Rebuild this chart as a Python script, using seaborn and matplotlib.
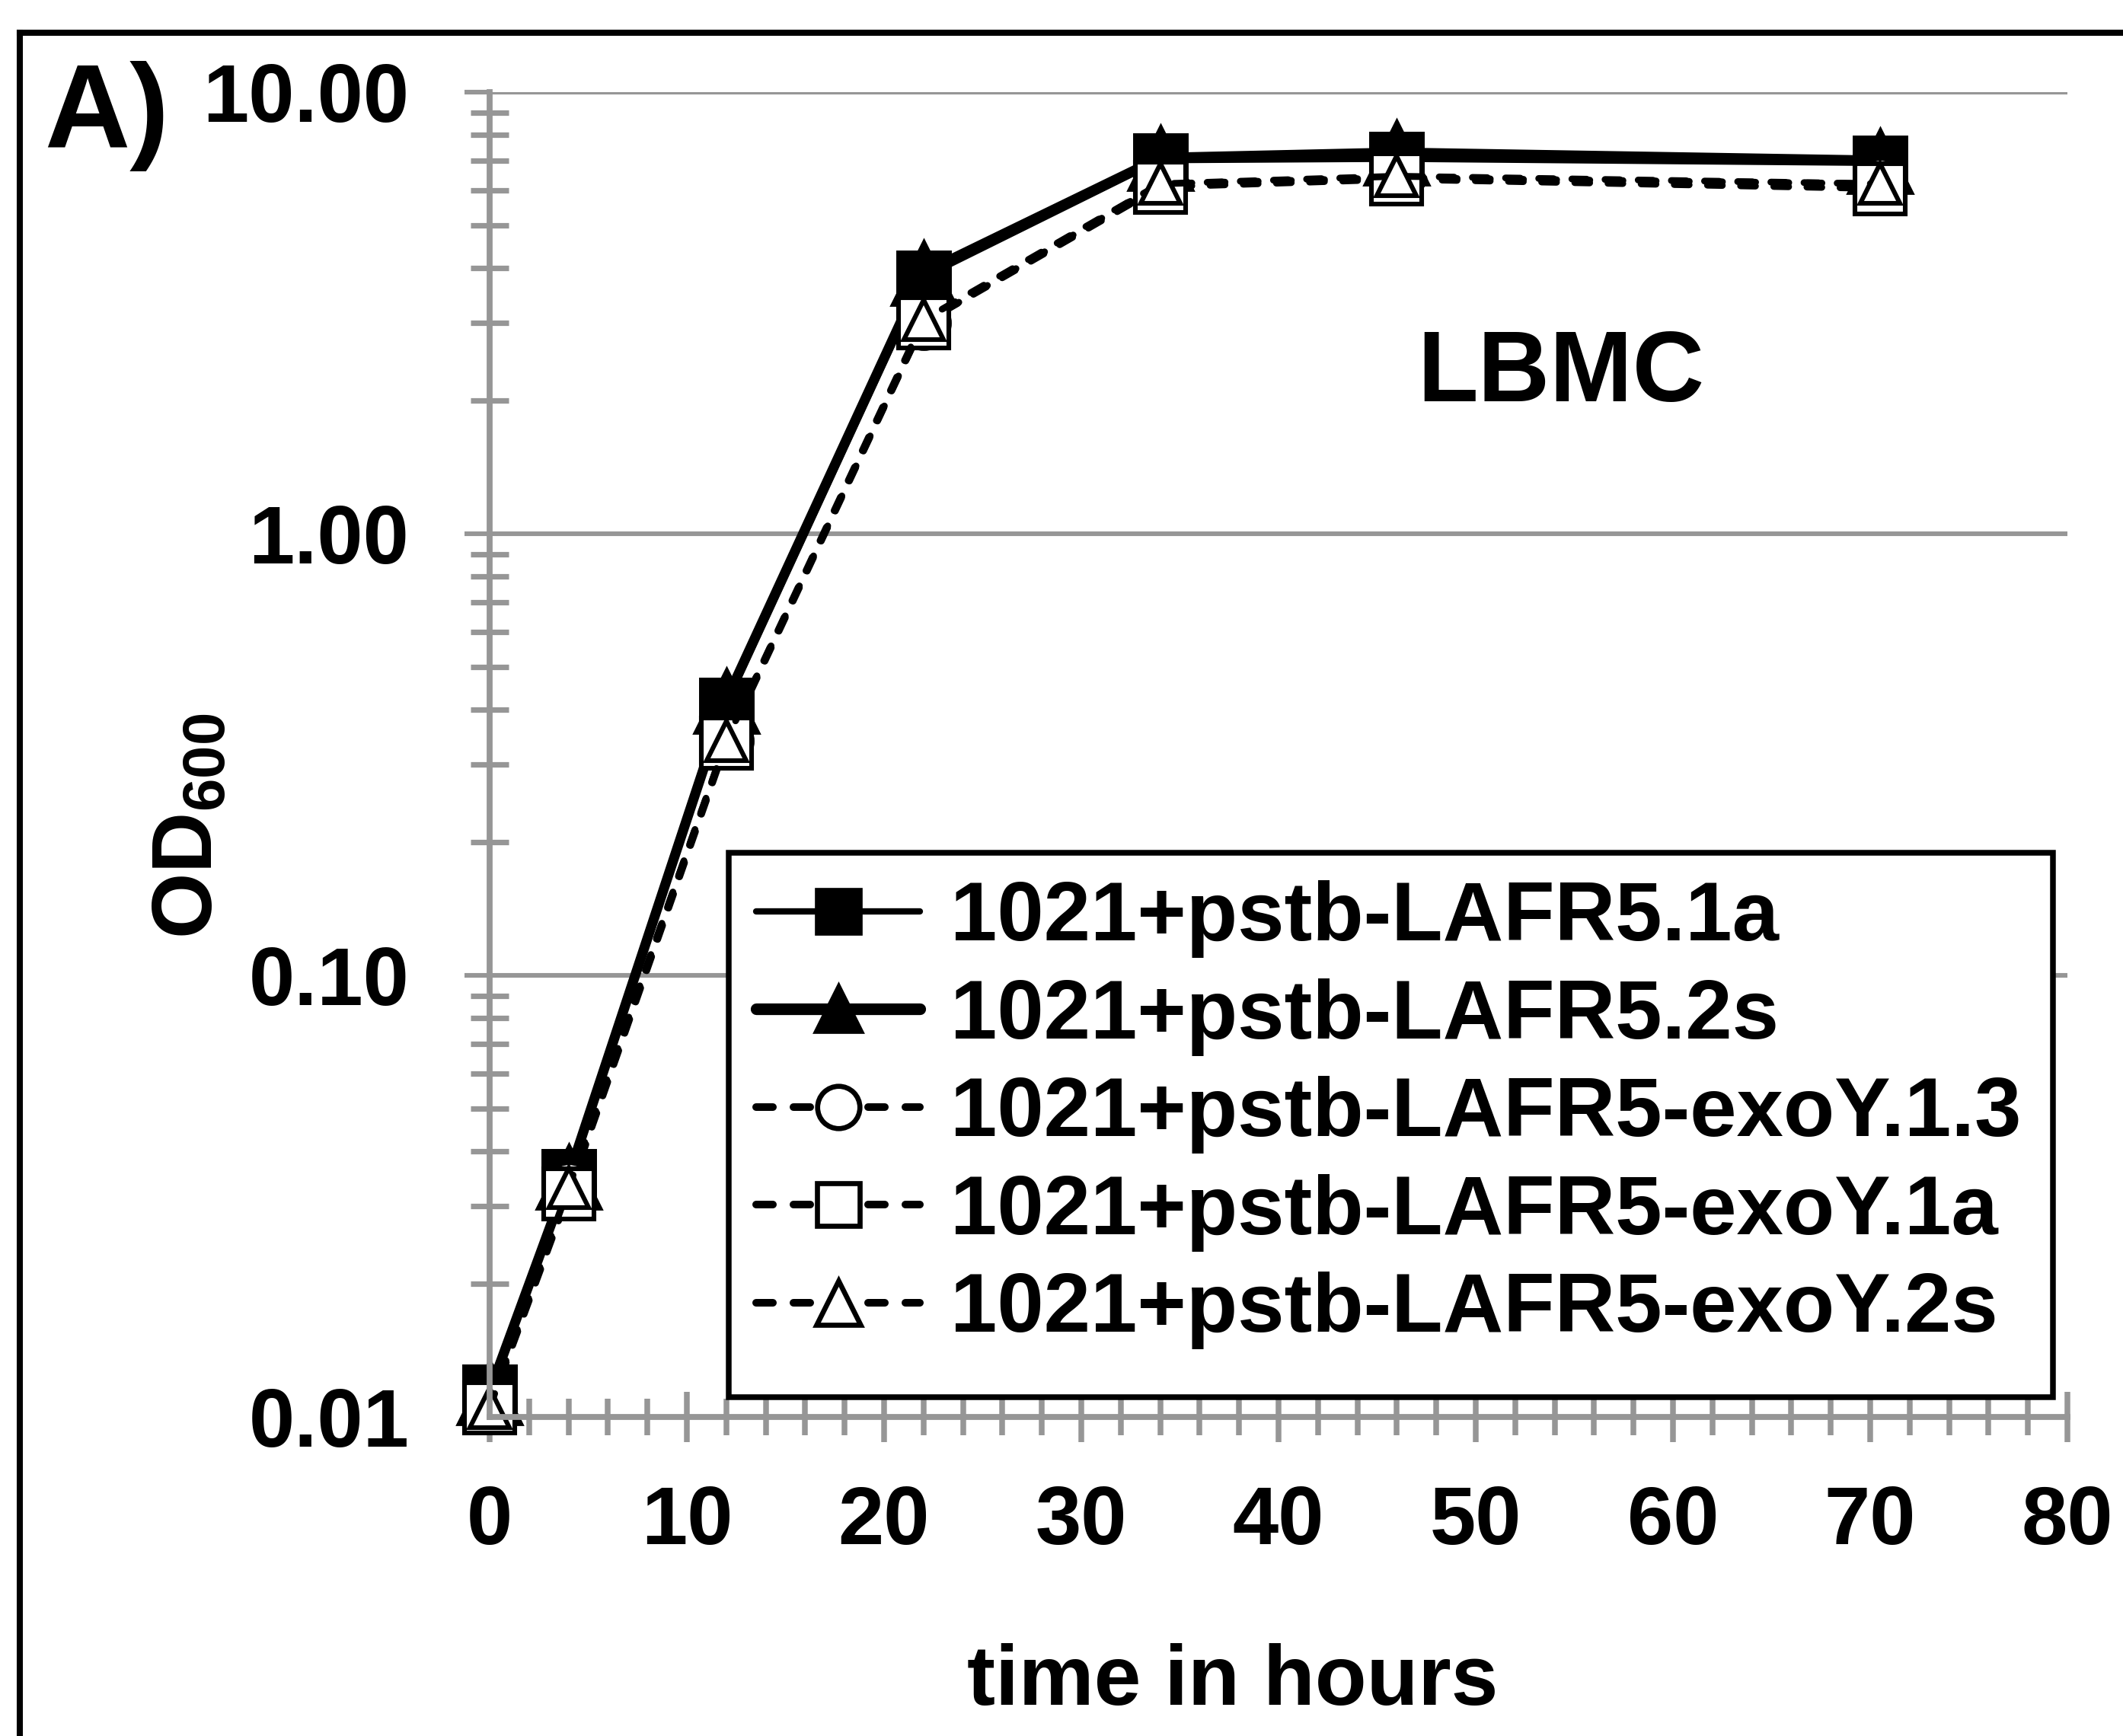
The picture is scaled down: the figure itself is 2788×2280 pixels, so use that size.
import numpy as np
import pandas as pd
import matplotlib
matplotlib.use("Agg")
import matplotlib.pyplot as plt
import seaborn as sns
from matplotlib.lines import Line2D
from matplotlib.patches import Rectangle
from matplotlib.legend_handler import HandlerLine2D
from matplotlib.ticker import FixedLocator, FixedFormatter, NullFormatter

# ---------------- data ----------------
hours = [0, 4, 12, 22, 34, 46, 70.5]
od_lafr5_1a = [0.0114, 0.035, 0.41, 3.80, 7.00, 7.05, 6.90]
od_lafr5_2s = [0.0114, 0.035, 0.42, 3.90, 7.10, 7.30, 7.00]
od_exoy_1_3 = [0.0106, 0.033, 0.34, 3.00, 6.20, 6.40, 6.20]
od_exoy_1a = [0.0105, 0.032, 0.335, 3.00, 6.10, 6.35, 6.05]
od_exoy_2s = [0.0105, 0.033, 0.34, 3.05, 6.20, 6.45, 6.20]

series_labels = [
    "1021+pstb-LAFR5.1a",
    "1021+pstb-LAFR5.2s",
    "1021+pstb-LAFR5-exoY.1.3",
    "1021+pstb-LAFR5-exoY.1a",
    "1021+pstb-LAFR5-exoY.2s",
]
series_values = [od_lafr5_1a, od_lafr5_2s, od_exoy_1_3, od_exoy_1a, od_exoy_2s]

x_major_ticks = [0, 10, 20, 30, 40, 50, 60, 70, 80]
x_tick_labels = ["0", "10", "20", "30", "40", "50", "60", "70", "80"]
y_major_ticks = [0.01, 0.1, 1, 10]
y_tick_labels = ["0.01", "0.10", "1.00", "10.00"]

panel_label = "A)"
medium_label = "LBMC"
x_label = "time in hours"
y_label = r"OD$_{\mathbf{600}}$"

# ---------------- style ----------------
sns.set_style("white")
plt.rcParams["font.family"] = ["Liberation Sans", "DejaVu Sans"]
plt.rcParams["font.weight"] = "bold"
plt.rcParams["text.color"] = "black"
plt.rcParams["axes.labelcolor"] = "black"
plt.rcParams["xtick.color"] = "black"
plt.rcParams["ytick.color"] = "black"
plt.rcParams["mathtext.fontset"] = "custom"
plt.rcParams["mathtext.rm"] = "Liberation Sans:bold"
plt.rcParams["mathtext.bf"] = "Liberation Sans:bold"
plt.rcParams["mathtext.it"] = "Liberation Sans:bold"

W, H, DPI = 2788, 2280, 200
GRAY = "#969696"

fig = plt.figure(figsize=(W / DPI, H / DPI), dpi=DPI)
fig.patch.set_facecolor("white")

left_px, right_px, top_px, bottom_px = 643, 2715, 121, 1861
ax = fig.add_axes([left_px / W, 1 - bottom_px / H,
                   (right_px - left_px) / W, (bottom_px - top_px) / H])

dash = (0, (2.2, 2.7))
styles = [
    dict(marker="s", markersize=24, markerfacecolor="black", markeredgewidth=2.5,
         linewidth=2.6, linestyle="-"),
    dict(marker="^", markersize=31, markerfacecolor="black", markeredgewidth=1.0,
         linewidth=4.7, linestyle="-"),
    dict(marker="o", markersize=24, markerfacecolor="white", markeredgewidth=2.2,
         linewidth=3.2, linestyle=dash),
    dict(marker="s", markersize=24, markerfacecolor="white", markeredgewidth=2.2,
         linewidth=3.2, linestyle=dash),
    dict(marker="^", markersize=19, markerfacecolor="white", markeredgewidth=2.2,
         linewidth=3.2, linestyle=dash),
]
legend_ms = [20, 21, 20, 20, 21]
legend_lw = [3.0, 5.5, 3.6, 3.6, 3.6]

for label, vals, st in zip(series_labels, series_values, styles):
    df = pd.DataFrame({"hours": hours, "od": vals})
    sns.lineplot(data=df, x="hours", y="od", ax=ax, color="black",
                 markeredgecolor="black", errorbar=None, legend=False,
                 clip_on=False, dash_capstyle="round", solid_capstyle="round",
                 **st)

ax.set_yscale("log")
ax.set_xlim(0, 80)
ax.set_ylim(0.01, 10)

ax.xaxis.set_major_locator(FixedLocator(x_major_ticks))
ax.xaxis.set_major_formatter(FixedFormatter(x_tick_labels))
ax.xaxis.set_minor_locator(FixedLocator(np.arange(0, 81, 2)))
ax.xaxis.set_minor_formatter(NullFormatter())

ax.yaxis.set_major_locator(FixedLocator(y_major_ticks))
ax.yaxis.set_major_formatter(FixedFormatter(y_tick_labels))
minor_y = [m * d for d in (0.01, 0.1, 1) for m in range(2, 10)]
ax.yaxis.set_minor_locator(FixedLocator(minor_y))
ax.yaxis.set_minor_formatter(NullFormatter())

ax.set_xlabel("")
ax.set_ylabel("")

for s in ("top", "right"):
    ax.spines[s].set_visible(False)
for s in ("left", "bottom"):
    ax.spines[s].set_color(GRAY)
    ax.spines[s].set_linewidth(2.8)

ax.grid(False)
ax.yaxis.grid(True, which="major", color=GRAY, linewidth=2.2)
ax.set_axisbelow(True)

ax.tick_params(axis="both", which="both", bottom=True, left=True,
               top=False, right=False)
ax.tick_params(axis="x", which="major", direction="inout", length=24, width=2.7,
               color=GRAY, pad=20, labelsize=39, labelcolor="black")
ax.tick_params(axis="x", which="minor", direction="inout", length=17, width=2.7,
               color=GRAY)
ax.tick_params(axis="y", which="major", direction="out", length=12, width=2.2,
               color=GRAY, pad=26, labelsize=39, labelcolor="black")
ax.tick_params(axis="y", which="minor", direction="inout", length=18, width=2.6,
               color=GRAY)
for t in ax.get_xticklabels() + ax.get_yticklabels():
    t.set_fontweight("bold")


# legend with the marker placed towards the right end of the handle line
class OffsetMarkerHandler(HandlerLine2D):
    def __init__(self, frac=0.69, **kw):
        super().__init__(**kw)
        self.frac = frac

    def get_xdata(self, legend, xdescent, ydescent, width, height, fontsize):
        xdata = np.array([-xdescent, -xdescent + width])
        xdata_marker = np.array([-xdescent + self.frac * width])
        return xdata, xdata_marker


handles = []
for st, ms, lw in zip(styles, legend_ms, legend_lw):
    h = Line2D([], [], color="black", marker=st["marker"], markersize=ms,
               markerfacecolor=st["markerfacecolor"], markeredgecolor="black",
               markeredgewidth=2.4, linewidth=lw,
               linestyle=st["linestyle"], dash_capstyle="round")
    handles.append(h)

leg = ax.legend(handles, series_labels, loc="upper left",
                bbox_to_anchor=(957 / W, 1 - 1120 / H),
                bbox_transform=fig.transFigure, borderaxespad=0,
                prop={"family": "Liberation Sans", "weight": "bold", "size": 39.7},
                borderpad=0.33, handlelength=1.95, handletextpad=0.36,
                labelspacing=0.24, frameon=False,
                handler_map={Line2D: OffsetMarkerHandler()})
leg.set_zorder(6)
for t in leg.get_texts():
    t.set_color("black")

# legend box (white, black outline)
frame_l, frame_t, frame_r, frame_b = 957, 1120, 2696, 1835
ax.add_patch(Rectangle((frame_l / W, 1 - frame_b / H),
                       (frame_r - frame_l) / W, (frame_b - frame_t) / H,
                       transform=fig.transFigure, facecolor="white",
                       edgecolor="black", linewidth=2.7, zorder=5,
                       clip_on=False))

# texts
fig.text(58 / W, 1 - 193 / H, panel_label, ha="left", va="baseline",
         fontsize=56, fontweight="bold", color="black")
fig.text(2050 / W, 1 - 527 / H, medium_label, ha="center", va="baseline",
         fontsize=47, fontweight="bold", color="black")
fig.text(1619 / W, 1 - 2239 / H, x_label, ha="center", va="baseline",
         fontsize=40, fontweight="bold", color="black")
fig.text(250 / W, 1 - 1085 / H, y_label, ha="center", va="center",
         rotation=90, fontsize=40, fontweight="bold", color="black")

# outer frame (top and left edges visible)
fig.add_artist(Line2D([26 / W, 1.01], [1 - 43 / H, 1 - 43 / H],
                      transform=fig.transFigure, color="black", linewidth=2.9,
                      solid_capstyle="projecting"))
fig.add_artist(Line2D([26 / W, 26 / W], [1 - 43 / H, -0.01],
                      transform=fig.transFigure, color="black", linewidth=2.9,
                      solid_capstyle="projecting"))

fig.savefig("out.png", dpi=DPI, facecolor="white")
